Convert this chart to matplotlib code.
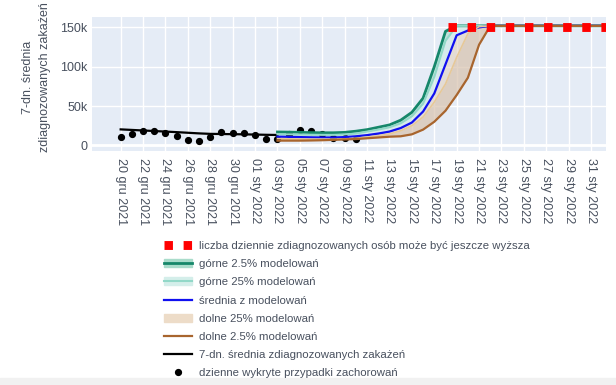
import numpy as np
import matplotlib.pyplot as plt
from matplotlib.lines import Line2D
from matplotlib.patches import Patch

# daily detected cases (thousands), from 20 gru 2021
case_days = np.arange(np.datetime64('2021-12-20'), np.datetime64('2022-01-11'))
daily_cases = [10.5, 14.9, 18.2, 18.2, 16.3, 12.0, 7.0, 5.4, 10.8, 16.4, 16.0,
               15.2, 13.1, 8.3, 7.6, 14.2, 19.3, 18.5, 14.3, 9.0, 9.0, 7.6]

# 7-day average (thousands)
avg_days = np.arange(np.datetime64('2021-12-20'), np.datetime64('2022-01-04'))
avg7 = [20.3, 19.6, 18.9, 18.2, 17.5, 16.8, 16.0, 15.2, 14.6, 14.4, 14.2,
        14.0, 13.7, 13.4, 13.2]

# model output (thousands), 03 sty 2022 .. 01 lut 2022
model_days = np.arange(np.datetime64('2022-01-03'), np.datetime64('2022-02-02'))
upper_975 = [17, 16.8, 16.5, 16.2, 16, 16, 16.5, 18, 20, 23, 26, 32, 42, 60, 100, 145,
             152, 152, 152, 152, 152, 152, 152, 152, 152, 152, 152, 152, 152, 152]
upper_75 = [14, 14, 13.8, 13.5, 13.3, 13.3, 13.8, 15, 17.5, 20, 23, 28, 37, 53, 87, 133,
            152, 152, 152, 152, 152, 152, 152, 152, 152, 152, 152, 152, 152, 152]
mean_model = [11, 10.8, 10.5, 10.2, 10, 10, 10.5, 11.5, 13, 15, 17.5, 22, 29, 43, 66, 103,
              140, 146, 150, 152, 152, 152, 152, 152, 152, 152, 152, 152, 152, 152]
lower_25 = [8.5, 8.3, 8, 7.8, 7.8, 7.8, 8.2, 9, 10.5, 12, 14.5, 18.5, 25, 36, 55, 78,
            112, 142, 151, 152, 152, 152, 152, 152, 152, 152, 152, 152, 152, 152]
lower_025 = [6, 6, 6, 6.2, 6.5, 7, 7.5, 8, 9, 10, 11, 11.5, 14, 20, 30, 44,
             64, 86, 128, 152, 152, 152, 152, 152, 152, 152, 152, 152, 152, 152]

# "may be higher" marker line
red_days = np.array(['2022-01-18T05', '2022-02-02'], dtype='datetime64[h]')
red_vals = [150, 150]

tick_days = np.arange(np.datetime64('2021-12-20'), np.datetime64('2022-02-01'), 2)
months = {12: 'gru', 1: 'sty'}

labels = ['liczba dziennie zdiagnozowanych osób może być jeszcze wyższa',
          'górne 2.5% modelowań', 'górne 25% modelowań', 'średnia z modelowań',
          'dolne 25% modelowań', 'dolne 2.5% modelowań',
          '7-dn. średnia zdiagnozowanych zakażeń', 'dzienne wykryte przypadki zachorowań']

plt.rcParams['font.family'] = ['Liberation Sans', 'DejaVu Sans']
txt = '#48505e'

k = 1000
green, teal, blue, tan, brown = '#16876a', '#92d8c8', '#1010f0', '#e6c898', '#a8652e'

fig = plt.figure(figsize=(6.16, 3.85), dpi=100)
ax = fig.add_axes([0.1489, 0.6086, 0.8349, 0.348])
ax.set_facecolor('#e5ecf6')

md = model_days.astype('datetime64[D]')
up975 = np.array(upper_975) * k
up75 = np.array(upper_75) * k
mean = np.array(mean_model) * k
lo25 = np.array(lower_25) * k
lo025 = np.array(lower_025) * k

ax.fill_between(md, up75, up975, color='#a9dccb', alpha=0.6, lw=0, zorder=2)
ax.fill_between(md, mean, up75, color='#cdeae6', alpha=0.6, lw=0, zorder=2)
ax.fill_between(md, lo25, mean, color='#e3d2bf', alpha=0.6, lw=0, zorder=2)
ax.fill_between(md, lo025, lo25, color='#d8c2ad', alpha=0.7, lw=0, zorder=2)

ax.plot(md, up975, color=green, lw=2, zorder=4)
ax.plot(md, up75, color=teal, lw=1.5, zorder=4)
ax.plot(md, mean, color=blue, lw=1.6, zorder=4)
ax.plot(md, lo25, color=tan, lw=1.2, zorder=4)
ax.plot(md, lo025, color=brown, lw=1.6, zorder=4)

ax.plot(avg_days, np.array(avg7) * k, color='black', lw=1.6, zorder=3)
ax.plot(case_days, np.array(daily_cases) * k, 'o', color='black', ms=4.2, zorder=3)

ax.plot(red_days, np.array(red_vals) * k, color='#ff0000', lw=6.4,
        dashes=(0.95, 1.2), solid_capstyle='butt', dash_capstyle='butt', zorder=5)

ax.set_xlim(np.datetime64('2021-12-20') - np.timedelta64(62, 'h'),
            np.datetime64('2022-01-31') + np.timedelta64(32, 'h'))
ax.set_ylim(-6800, 163600)

ax.set_xticks(tick_days.astype('datetime64[D]'))
ax.set_xticklabels(['%s %s %d' % (str(d)[8:10], months[int(str(d)[5:7])], int(str(d)[:4]))
                    for d in tick_days], rotation=-90, fontsize=9, color=txt)
ax.set_yticks([0, 50000, 100000, 150000])
ax.set_yticklabels(['0', '50k', '100k', '150k'], fontsize=9, color=txt)
ax.tick_params(axis='x', length=0, pad=5)
ax.tick_params(axis='y', length=0, pad=3)
ax.grid(color='white', lw=1)
ax.set_axisbelow(True)
ax.axhline(0, color='white', lw=2, zorder=1)
for s in ax.spines.values():
    s.set_visible(False)

ax.set_ylabel('7-dn. średnia\nzdiagnozowanych zakażeń', fontsize=9, color=txt,
              linespacing=1.55)
ax.yaxis.set_label_coords(-0.08, 0.55)

handles = [
    Line2D([], [], color='#ff0000', lw=6.4, dashes=(0.95, 1.2), dash_capstyle='butt'),
    (Patch(color='#a9dccb'), Line2D([], [], color=green, lw=2)),
    (Patch(color='#d4eeea'), Line2D([], [], color=teal, lw=1.5)),
    Line2D([], [], color=blue, lw=1.6),
    Patch(color='#eddcc8'),
    Line2D([], [], color=brown, lw=1.6),
    Line2D([], [], color='black', lw=1.6),
    Line2D([], [], ls='none', marker='o', color='black', ms=4.2),
]
leg = fig.legend(handles, labels, loc='upper left', bbox_to_anchor=(164 / 616, 1 - 241 / 385),
                 frameon=False, fontsize=8.2, handlelength=2.5, handletextpad=0.55,
                 labelspacing=0.72, borderpad=0, borderaxespad=0, numpoints=1)
for t in leg.get_texts():
    t.set_color(txt)

fig.patches.append(plt.Rectangle((0, 0), 1, 7 / 385, transform=fig.transFigure,
                                 color='#f1f1f1', zorder=0))

fig.savefig('out.png', dpi=100)
